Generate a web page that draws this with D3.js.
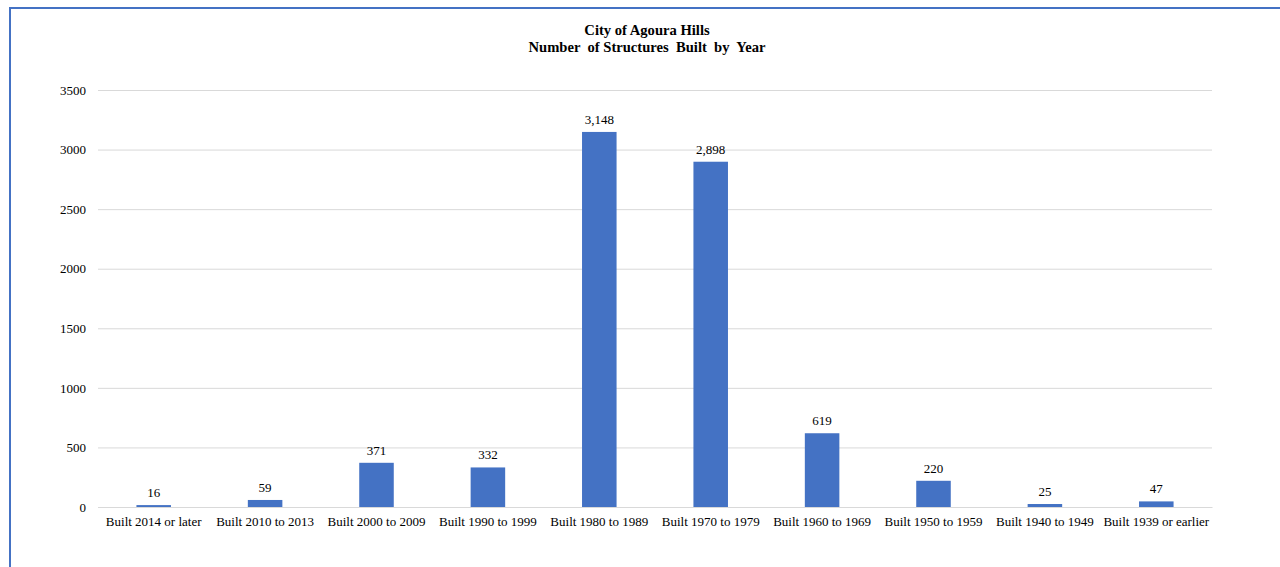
<!DOCTYPE html>
<html><head><meta charset="utf-8">
<script src="https://cdn.jsdelivr.net/npm/d3@7"></script>
<style>html,body{margin:0;padding:0;background:#fff;overflow:hidden}</style>
</head><body>
<svg id="c" width="1280" height="567"></svg>
<script>
const categories = ["Built 2014 or later","Built 2010 to 2013","Built 2000 to 2009","Built 1990 to 1999","Built 1980 to 1989","Built 1970 to 1979","Built 1960 to 1969","Built 1950 to 1959","Built 1940 to 1949","Built 1939 or earlier"];
const values = [16,59,371,332,3148,2898,619,220,25,47];
const yTicks = [0,500,1000,1500,2000,2500,3000,3500];
const titleLines = ["City of Agoura Hills","Number  of Structures  Built  by  Year"];

const svg = d3.select("#c");
const font = "'Liberation Serif','Times New Roman',serif";
// border
svg.append("rect").attr("x",10).attr("y",8).attr("width",1290).attr("height",600)
  .attr("fill","none").attr("stroke","#4472C4").attr("stroke-width",2);

const pL=98,pR=1212,pT=90,pB=507;
const x = d3.scaleBand().domain(categories).range([pL,pR]).paddingInner(0.69).paddingOuter(0.345);
const y = d3.scaleLinear().domain([0,3500]).range([pB,pT]);

const g = svg.append("g");
const yAxis = g.append("g").attr("transform",`translate(${pL},0)`)
  .call(d3.axisLeft(y).tickValues(yTicks).tickSize(-(pR-pL)).tickFormat(d3.format("d")));
yAxis.select(".domain").remove();
yAxis.selectAll(".tick line").attr("stroke","#d9d9d9").attr("stroke-width",1);
yAxis.selectAll(".tick text").attr("x",-12).attr("fill","#000").style("font-family",font).style("font-size","13px");

const xAxis = g.append("g").attr("transform",`translate(0,${pB})`)
  .call(d3.axisBottom(x).tickSize(0));
xAxis.select(".domain").attr("stroke","#d9d9d9");
xAxis.selectAll(".tick text").attr("dy","0.71em").attr("y",10).attr("fill","#000").style("font-family",font).style("font-size","13px");

g.selectAll("rect.bar").data(values).enter().append("rect").attr("class","bar")
  .attr("x",(d,i)=>x(categories[i])).attr("width",x.bandwidth())
  .attr("y",d=>y(d)).attr("height",d=>y(0)-y(d)).attr("fill","#4472C4");

g.selectAll("text.lbl").data(values).enter().append("text").attr("class","lbl")
  .attr("x",(d,i)=>x(categories[i])+x.bandwidth()/2).attr("y",d=>y(d)-8)
  .attr("text-anchor","middle").style("font-family",font).style("font-size","13px").attr("fill","#000")
  .text(d=>d3.format(",")(d));

svg.selectAll("text.title").data(titleLines).enter().append("text").attr("class","title")
  .attr("x",647).attr("y",(d,i)=>35+i*17).attr("text-anchor","middle")
  .style("font-family",font).style("font-size","14.6px").style("font-weight","bold").style("white-space","pre")
  .attr("xml:space","preserve").text(d=>d);
</script>
</body></html>
